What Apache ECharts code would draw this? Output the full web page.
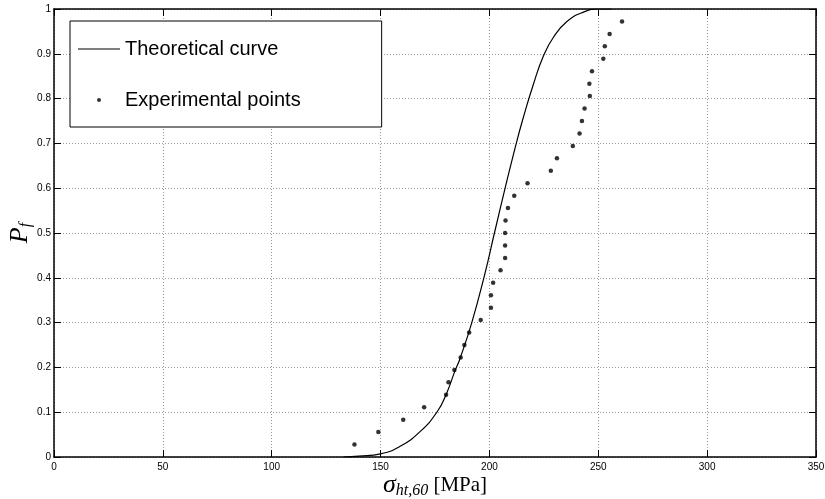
<!DOCTYPE html>
<html>
<head>
<meta charset="utf-8">
<script src="https://cdn.jsdelivr.net/npm/echarts@6/dist/echarts.min.js"></script>
<style>
  html, body { margin: 0; padding: 0; background: #fff; }
  #chart { width: 825px; height: 499px; }
</style>
</head>
<body>
<div id="chart"></div>
<script>
// experimental points (stress in MPa, failure probability)
const stressPoints = [138.0, 149.0, 160.4, 170.0, 180.1, 181.2, 183.9, 186.8, 188.5, 190.7,
  196.0, 200.7, 200.7, 201.7, 205.1, 207.2, 207.2, 207.2, 207.4, 208.5,
  211.4, 217.5, 228.2, 231.0, 238.3, 241.4, 242.5, 243.7, 246.1, 245.9,
  247.1, 252.3, 253.0, 255.2, 260.9];
const probPoints = [0.028, 0.056, 0.083, 0.111, 0.139, 0.167, 0.194, 0.222, 0.250, 0.278,
  0.306, 0.333, 0.361, 0.389, 0.417, 0.444, 0.472, 0.500, 0.528, 0.556,
  0.583, 0.611, 0.639, 0.667, 0.694, 0.722, 0.750, 0.778, 0.806, 0.833,
  0.861, 0.889, 0.917, 0.944, 0.972];

// theoretical curve
const curveStress = [133, 140, 150, 159, 168, 176, 180.4, 184, 186.5, 191.9,
  197.7, 202.3, 207.2, 211.8, 215.4, 220.2, 224.8, 229.4, 235.6, 243.2, 250, 256];
const curveProb = [0, 0.002, 0.007, 0.024, 0.056, 0.101, 0.143, 0.19, 0.22, 0.30,
  0.405, 0.50, 0.60, 0.69, 0.755, 0.832, 0.895, 0.937, 0.972, 0.993, 1.0, 1.0];

const xTicks = { min: 0, max: 350, interval: 50 };
const yTicks = { min: 0, max: 1, interval: 0.1 };

const sansFont = "'Liberation Sans', Arial, sans-serif";
const serifFont = "'Liberation Serif', 'DejaVu Serif', serif";

const chart = echarts.init(document.getElementById('chart'));

const axisLine = { show: true, onZero: false, lineStyle: { color: '#000', width: 1.5 } };
const tick = { show: true, inside: true, length: 7, lineStyle: { color: '#000', width: 1 } };
const gridLine = { show: true, lineStyle: { color: '#999', width: 1, type: [1, 2] } };

const option = {
  animation: false,
  backgroundColor: '#fff',
  textStyle: { fontFamily: sansFont },
  grid: { left: 54, right: 9, top: 9, bottom: 42, outerBoundsMode: 'none', containLabel: false },
  legend: {
    left: 70,
    top: 21,
    orient: 'vertical',
    selectedMode: false,
    backgroundColor: '#fff',
    borderColor: '#000',
    borderWidth: 1,
    borderRadius: 0,
    padding: [18, 81, 17, 8],
    itemWidth: 42,
    itemHeight: 20,
    itemGap: 31,
    textStyle: { fontFamily: sansFont, fontSize: 20, color: '#000', lineHeight: 20 },
    data: [
      {
        name: 'Theoretical curve',
        icon: 'path://M0,9.5L42,9.5L42,10.5L0,10.5Z'
      },
      {
        name: 'Experimental points',
        icon: 'path://M0,0M42,20M19,10A2,2,0,1,1,23,10A2,2,0,1,1,19,10Z'
      }
    ]
  },
  xAxis: [
    {
      type: 'value',
      min: xTicks.min,
      max: xTicks.max,
      interval: xTicks.interval,
      axisLine: axisLine,
      axisTick: tick,
      splitLine: gridLine,
      axisLabel: { color: '#000', fontSize: 10, margin: 5, fontFamily: sansFont },
      name: '{s|σ}{sub|ht,60}{u| [MPa]}',
      nameLocation: 'middle',
      nameGap: 14,
      nameMoveOverlap: false,
      nameTextStyle: {
        rich: {
          s: { fontFamily: serifFont, fontStyle: 'italic', fontSize: 26, lineHeight: 28, color: '#000' },
          sub: { fontFamily: serifFont, fontStyle: 'italic', fontSize: 16, lineHeight: 18, verticalAlign: 'bottom', color: '#000' },
          u: { fontFamily: serifFont, fontSize: 21, lineHeight: 28, color: '#000' }
        }
      }
    },
    {
      type: 'value',
      position: 'top',
      min: xTicks.min,
      max: xTicks.max,
      interval: xTicks.interval,
      axisLine: axisLine,
      axisTick: tick,
      splitLine: { show: false },
      axisLabel: { show: false }
    }
  ],
  yAxis: [
    {
      type: 'value',
      min: yTicks.min,
      max: yTicks.max,
      interval: yTicks.interval,
      axisLine: axisLine,
      axisTick: tick,
      splitLine: gridLine,
      axisLabel: { color: '#000', fontSize: 10, margin: 3, fontFamily: sansFont },
      name: '{p|P}{sub|f}',
      nameLocation: 'middle',
      nameRotate: 90,
      nameGap: 20,
      nameMoveOverlap: false,
      nameTextStyle: {
        rich: {
          p: { fontFamily: serifFont, fontStyle: 'italic', fontSize: 26, lineHeight: 28, color: '#000' },
          sub: { fontFamily: serifFont, fontStyle: 'italic', fontSize: 16, lineHeight: 18, verticalAlign: 'bottom', color: '#000' }
        }
      }
    },
    {
      type: 'value',
      position: 'right',
      min: yTicks.min,
      max: yTicks.max,
      interval: yTicks.interval,
      axisLine: axisLine,
      axisTick: tick,
      splitLine: { show: false },
      axisLabel: { show: false }
    }
  ],
  series: [
    {
      name: 'Theoretical curve',
      type: 'line',
      data: curveStress.map((x, i) => [x, curveProb[i]]),
      smooth: 0.5,
      symbol: 'none',
      lineStyle: { color: '#000', width: 1.2 },
      itemStyle: { color: '#000' },
      emphasis: { disabled: true },
      clip: true,
      z: 3
    },
    {
      name: 'Experimental points',
      type: 'scatter',
      data: stressPoints.map((x, i) => [x, probPoints[i]]),
      symbol: 'circle',
      symbolSize: 4.5,
      itemStyle: { color: '#000' },
      emphasis: { disabled: true },
      z: 4
    }
  ]
};

chart.setOption(option);
</script>
</body>
</html>
